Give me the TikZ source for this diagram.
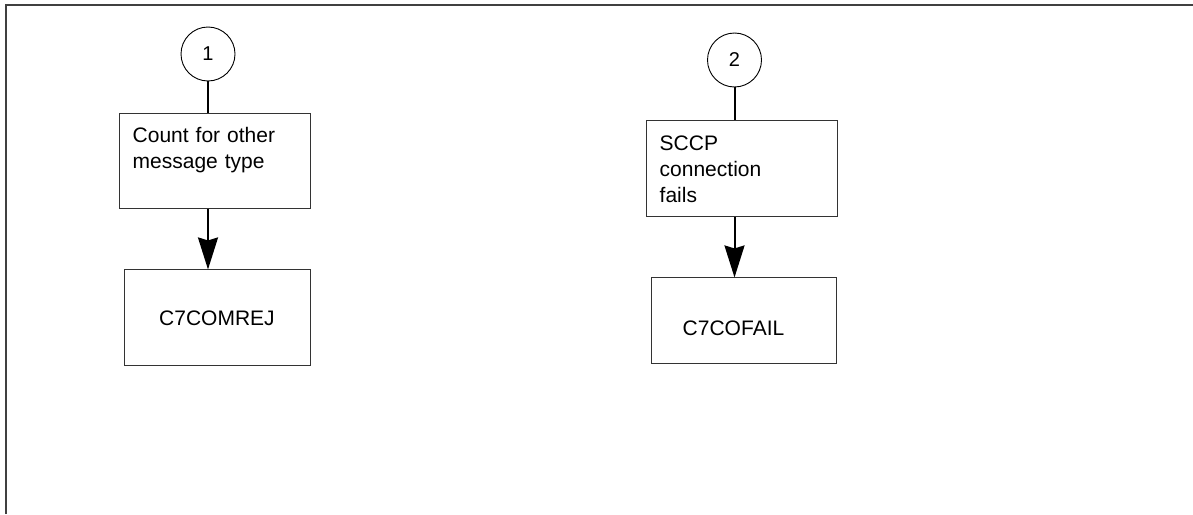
\documentclass[tikz,border=0pt]{standalone}
\usepackage{fontspec}
\setmainfont{Liberation Sans}
\usepackage{tikz}
\usetikzlibrary{arrows.meta, calc, positioning}

\begin{document}
\begin{tikzpicture}[x=1pt, y=-1pt, node distance=60pt,
  every node/.style={font=\fontsize{21}{26}\selectfont},
  tagcircle/.style={draw, circle, line width=0.9pt, minimum size=54pt, inner sep=0pt, font=\fontsize{20}{24}\selectfont},
  stepbox/.style={draw=black!80, line width=1pt, minimum width=191pt, minimum height=95pt, inner sep=0pt},
  countbox/.style={draw=black!80, line width=1pt, minimum width=186pt, minimum height=96pt, inner sep=0pt},
  steptext/.style={anchor=base west, inner sep=0pt, text width=170pt, align=left},
  flowline/.style={line width=2pt},
  flowarrow/.style={line width=2pt, -{Stealth[length=32pt, width=20pt, inset=3pt]}}]
\useasboundingbox (0,0) rectangle (1193,514);
% frame
\draw[black!75, line width=2pt] (6,514) -- (6,5) -- (1193,5);
% left column
\node[tagcircle] (c1) at (208,54) {1};
\node[stepbox, below=32pt of c1, xshift=6.5pt] (t1) {};
\node[steptext] (l1) at ([xshift=14pt, yshift=-29pt]t1.north west) {Count for other\\message type};
\node[countbox, below=of t1, xshift=2.5pt] (r1) {C7COMREJ};
% right column
\node[tagcircle] (c2) at (734.5,60) {2};
\node[stepbox, below=33pt of c2, xshift=7pt, minimum height=96pt] (t2) {};
\node[steptext] (l2) at ([xshift=14pt, yshift=-30pt]t2.north west) {SCCP\\connection\\fails};
\node[countbox, below=of t2, xshift=2pt, minimum width=185pt, minimum height=86pt] (r2) {};
\node[inner sep=0pt] (l3) at ([xshift=-10pt, yshift=-7pt]r2.center) {C7COFAIL};
\draw[flowline] (c1) -- (c1 |- t1.north);
\draw[flowarrow] (c1 |- t1.south) -- (c1 |- r1.north);
\draw[flowline] (c2) -- (c2 |- t2.north);
\draw[flowarrow] (c2 |- t2.south) -- (c2 |- r2.north);
\end{tikzpicture}
\end{document}
